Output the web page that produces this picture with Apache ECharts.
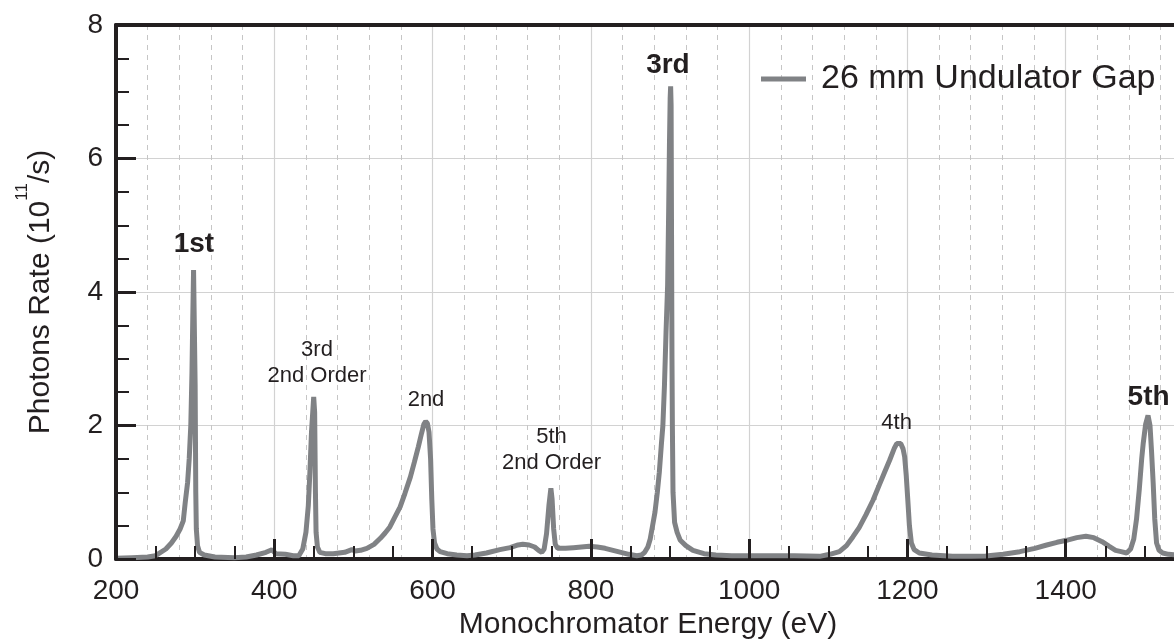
<!DOCTYPE html>
<html><head><meta charset="utf-8">
<script src="https://cdn.jsdelivr.net/npm/echarts@6/dist/echarts.min.js"></script>
<style>html,body{margin:0;padding:0;background:#fff}#c{width:1174px;height:642px}</style>
</head><body><div id="c"></div>
<script>
const seriesName = '26 mm Undulator Gap';
const xTitle = 'Monochromator Energy (eV)';
const yTitle = 'Photons Rate (10{sup|11}/s)';
const xMin = 200, xMax = 1600, xStep = 200;
const yMin = 0, yMax = 8, yStep = 2;

const energy = [200,220,240,250,263,270,276,281,285,287.5,290.5,292.5,294.5,296,297,298,299.3,300,300.8,301.5,303,305.5,311.5,325,349.5,364.5,377.5,389.5,397,402,414,424,431,436,440,443,445,447,449.8,451,452,452.8,454.5,457.5,464.5,474.5,489,498,502,509,517,526,534,540,546,552,559,565,572,577,582,586,589,591.3,593.5,595.5,597.5,599,600.5,602.5,605.5,609.5,618.5,630.5,643.5,653.5,668,685,698,708,714,722,729,734,738,741,744,747,749.5,751,753,755,758,768,778,788,798,808,818,828,838,848,858,864,868,872,875,878,881,884,886.5,889,891,893,895,897,898.3,899.3,900.2,900.8,901.4,901.9,902.5,903,903.8,905.8,909,913,920,929,943,958,978,997.5,1027,1057,1089,1102,1114,1123,1131,1139,1147.5,1156.5,1164.5,1171.5,1177.5,1183.5,1186.5,1189,1191.5,1194.5,1196.5,1198.5,1200.5,1202.5,1205,1208.5,1215,1231,1257,1281,1299,1321,1342,1361,1376,1389,1401,1414,1425.5,1435.5,1446,1455,1463,1470,1477,1482,1486,1489.5,1493,1496,1498,1501,1504,1506.5,1508.5,1510.5,1512.5,1514.8,1518,1522.5,1530,1545];
const rate = [0.01,0.02,0.03,0.05,0.15,0.24,0.34,0.45,0.57,0.85,1.15,1.5,2.0,2.8,3.6,4.33,4.33,2.6,1.0,0.45,0.2,0.1,0.06,0.03,0.02,0.03,0.06,0.1,0.14,0.08,0.07,0.05,0.05,0.15,0.4,0.8,1.3,1.9,2.43,2.2,1.0,0.4,0.18,0.1,0.08,0.08,0.1,0.14,0.12,0.13,0.16,0.22,0.31,0.39,0.48,0.62,0.78,0.98,1.23,1.45,1.68,1.88,2.02,2.06,2.03,1.9,1.5,0.9,0.45,0.24,0.15,0.11,0.08,0.06,0.05,0.06,0.09,0.14,0.17,0.21,0.22,0.21,0.18,0.13,0.1,0.15,0.38,0.8,1.06,0.9,0.45,0.22,0.16,0.16,0.17,0.18,0.19,0.18,0.16,0.13,0.1,0.07,0.05,0.06,0.1,0.18,0.3,0.5,0.7,1.0,1.3,1.7,2.0,2.6,3.4,4.1,5.2,6.2,6.9,7.08,6.8,5.0,3.0,2.0,1.0,0.55,0.4,0.28,0.2,0.13,0.08,0.06,0.05,0.05,0.05,0.05,0.04,0.07,0.11,0.2,0.33,0.47,0.66,0.88,1.11,1.31,1.48,1.66,1.73,1.75,1.73,1.65,1.53,1.25,0.88,0.5,0.24,0.14,0.09,0.06,0.04,0.04,0.045,0.07,0.11,0.16,0.21,0.25,0.28,0.32,0.34,0.32,0.26,0.19,0.13,0.11,0.09,0.15,0.3,0.6,1.05,1.5,1.74,2.02,2.15,2.0,1.6,1.14,0.6,0.24,0.13,0.09,0.07,0.06];

// harmonic annotations (anchor in data coordinates)
const majorLabels = ['1st', '3rd', '5th'];
const majorE = [298.5, 897.4, 1504.7];
const majorV = [4.72, 7.40, 2.42];
const minorLabels = ['3rd\n2nd Order', '2nd', '5th\n2nd Order', '4th'];
const minorE = [454, 591.7, 750.2, 1186.3];
const minorV = [2.94, 2.39, 1.63, 2.04];

const FONT = "'Liberation Sans', Arial, Helvetica, sans-serif";
const INK = '#231f20';
const LINE = '#808285';

const chart = echarts.init(document.getElementById('c'), null, {renderer: 'canvas'});

const baseX = {type: 'value', min: xMin, max: xMax, interval: xStep};
const baseY = {type: 'value', min: yMin, max: yMax, interval: yStep};
const plain = v => String(v);

chart.setOption({
  animation: false,
  backgroundColor: '#ffffff',
  grid: {left: 116, top: 25, bottom: 83, right: -50, containLabel: false, outerBoundsMode: 'none'},
  legend: {
    data: [seriesName], left: 756, top: 57, icon: 'rect',
    itemWidth: 45, itemHeight: 5, selectedMode: false,
    textStyle: {fontSize: 34, color: INK, fontFamily: FONT, padding: [0, 0, 0, 10]}
  },
  xAxis: [
    Object.assign({}, baseX, {
      position: 'bottom', z: 0,
      name: xTitle, nameLocation: 'middle', nameGap: 50,
      nameTextStyle: {fontSize: 30, color: INK, fontFamily: FONT, padding: [0, 44, 0, 0]},
      axisLine: {show: true, onZero: false, lineStyle: {color: INK, width: 4}},
      axisTick: {show: false},
      minorTick: {show: false},
      axisLabel: {fontSize: 28, color: INK, fontFamily: FONT, margin: 18, formatter: plain, hideOverlap: false},
      splitLine: {show: true, lineStyle: {color: '#d2d2d2', width: 1.2}},
      minorSplitLine: {show: true, lineStyle: {color: '#c6c6c6', width: 1, type: [5, 5]}}
    }),
    Object.assign({}, baseX, {
      position: 'top', z: 0,
      axisLine: {show: true, onZero: false, lineStyle: {color: INK, width: 4}},
      axisTick: {show: false}, axisLabel: {show: false}, splitLine: {show: false}
    }),
    Object.assign({}, baseX, {
      position: 'bottom', offset: 0, z: 10,
      axisLine: {show: false},
      axisTick: {show: true, inside: true, length: 20, lineStyle: {color: INK, width: 3}},
      minorTick: {show: true, splitNumber: 4, length: 13, lineStyle: {color: INK, width: 2}},
      axisLabel: {show: false}, splitLine: {show: false}
    })
  ],
  yAxis: [
    Object.assign({}, baseY, {
      position: 'left', z: 0,
      name: yTitle, nameLocation: 'middle', nameGap: 49,
      nameTextStyle: {
        fontSize: 30, color: INK, fontFamily: FONT,
        rich: {sup: {fontSize: 17, color: INK, fontFamily: FONT, verticalAlign: 'top', padding: [0, 0, 36, 0]}}
      },
      axisLine: {show: true, onZero: false, lineStyle: {color: INK, width: 4}},
      axisTick: {show: false}, minorTick: {show: false},
      axisLabel: {fontSize: 28, color: INK, fontFamily: FONT, margin: 13, formatter: plain},
      splitLine: {show: true, lineStyle: {color: '#d2d2d2', width: 1.2}}
    }),
    Object.assign({}, baseY, {
      position: 'left', offset: 0, z: 10,
      axisLine: {show: false},
      axisTick: {show: true, inside: true, length: 20, lineStyle: {color: INK, width: 3}},
      minorTick: {show: true, splitNumber: 4, length: 13, lineStyle: {color: INK, width: 2}},
      axisLabel: {show: false}, splitLine: {show: false}
    })
  ],
  series: [
    {
      name: seriesName, type: 'line', xAxisIndex: 0, yAxisIndex: 0, z: 2,
      data: energy.map((e, i) => [e, rate[i]]),
      showSymbol: false, smooth: false, silent: true,
      lineStyle: {color: LINE, width: 5, join: 'bevel'},
      itemStyle: {color: LINE}
    },
    {
      type: 'scatter', xAxisIndex: 0, yAxisIndex: 0, z: 3, silent: true,
      symbolSize: 0, itemStyle: {color: INK, opacity: 1},
      data: majorLabels.map((t, i) => ({value: [majorE[i], majorV[i]], name: t})),
      label: {show: true, position: 'inside', formatter: p => p.name, opacity: 1,
        fontSize: 28, fontWeight: 'bold', color: INK, fontFamily: FONT}
    },
    {
      type: 'scatter', xAxisIndex: 0, yAxisIndex: 0, z: 3, silent: true,
      symbolSize: 0, itemStyle: {color: INK, opacity: 1},
      data: minorLabels.map((t, i) => ({value: [minorE[i], minorV[i]], name: t})),
      label: {show: true, position: 'inside', formatter: p => p.name, opacity: 1,
        fontSize: 22, lineHeight: 26, color: INK, fontFamily: FONT, align: 'center'}
    }
  ]
});
</script>
</body></html>
